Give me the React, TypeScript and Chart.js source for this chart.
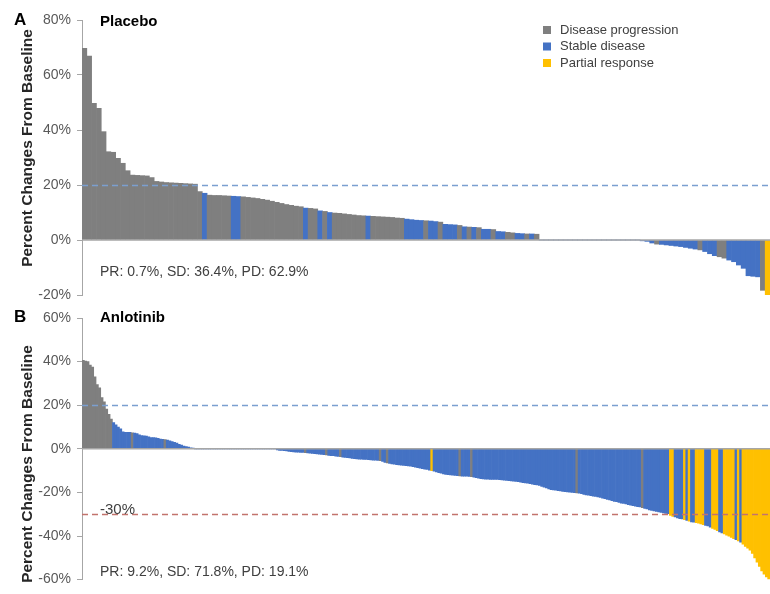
import React, { useEffect, useRef } from "react";
import { Chart, registerables } from "chart.js";

Chart.register(...registerables);

const FONT = "'Liberation Sans', Arial, Helvetica, sans-serif";

const responseNames = ["Disease progression", "Stable disease", "Partial response"];
const responseCodes = ["D", "S", "P"];
const responseColors: Record<string, string> = { D: "#7f7f7f", S: "#4472c4", P: "#ffc000" };

const placeboYTicks = [-20, 0, 20, 40, 60, 80];
const anlotinibYTicks = [-60, -40, -20, 0, 20, 40, 60];

const progressionThreshold = 20;
const responseThreshold = -30;

const placeboSummary = "PR: 0.7%, SD: 36.4%, PD: 62.9%";
const anlotinibSummary = "PR: 9.2%, SD: 71.8%, PD: 19.1%";

// Placebo arm: best percent change from baseline, sorted (one value per patient)
const placeboValues = [
  69.7, 66.9, 49.7, 47.9, 39.4, 32.1, 31.9, 29.7, 27.9, 25.2,
  23.6, 23.5, 23.4, 23.3, 22.7, 21.3, 21.1, 20.9, 20.8, 20.7,
  20.6, 20.5, 20.4, 20.3, 17.6, 17.0, 16.3, 16.2, 16.2, 16.1,
  16.0, 15.9, 15.8, 15.7, 15.5, 15.3, 15.1, 14.8, 14.5, 14.1,
  13.7, 13.3, 12.9, 12.6, 12.3, 12.1, 11.6, 11.5, 11.3, 10.6,
  10.4, 10.0, 9.8, 9.7, 9.5, 9.3, 9.1, 8.9, 8.8, 8.7,
  8.6, 8.5, 8.4, 8.3, 8.2, 8.0, 7.9, 7.6, 7.4, 7.2,
  7.1, 7.0, 6.9, 6.7, 6.5, 5.7, 5.6, 5.5, 5.3, 4.8,
  4.7, 4.6, 4.5, 3.9, 3.9, 3.8, 3.1, 3.0, 2.8, 2.6,
  2.4, 2.3, 2.2, 2.2, 2.1, 0, 0, 0, 0, 0,
  0, 0, 0, 0, 0, 0, 0, 0, 0, 0,
  0, 0, 0, 0, 0, 0, -0.3, -0.5, -1.1, -1.5,
  -1.6, -1.8, -2.0, -2.2, -2.4, -2.7, -3.0, -3.3, -3.6, -4.2,
  -5.0, -5.7, -6.1, -6.6, -7.3, -7.9, -9.1, -10.3, -13.0, -13.2,
  -13.4, -18.3, -20.5,
];
const placeboResponse = [
  "DDDDDDDDDD", "DDDDDDDDDD", "DDDDDSDDDD", "DSSDDDDDDD", "DDDDDDSDDS",
  "DSDDDDDDDS", "DDDDDDDSSS", "SDSSDSSSDS", "DSDSSDSSDD", "SSDSDSSSSS",
  "SSSSSSSSSS", "SSSSSSSSSD", "SSSSSSSSDS", "SSDDSSSSSS", "SDP",
].join("").split("");

// Anlotinib arm
const anlotinibValues = [
  40.6, 40.2, 40.0, 38.4, 37.5, 33.0, 29.5, 28.0, 23.5, 21.5,
  18.2, 15.8, 13.6, 12.0, 11.0, 10.0, 9.2, 7.8, 7.6, 7.6,
  7.5, 7.3, 7.2, 7.0, 6.4, 6.1, 6.0, 5.8, 5.5, 5.2,
  5.1, 5.0, 4.8, 4.5, 4.3, 4.2, 4.0, 3.6, 3.3, 3.0,
  2.6, 2.1, 1.7, 1.3, 1.0, 0.8, 0.5, 0.3, 0, 0,
  0, 0, 0, 0, 0, 0, 0, 0, 0, 0,
  0, 0, 0, 0, 0, 0, 0, 0, 0, 0,
  0, 0, 0, 0, 0, 0, 0, 0, 0, 0,
  0, 0, 0, -0.5, -0.7, -0.8, -0.9, -1.0, -1.2, -1.3,
  -1.4, -1.5, -1.6, -1.7, -1.7, -1.8, -1.9, -2.0, -2.1, -2.2,
  -2.4, -2.5, -2.6, -2.7, -2.8, -3.0, -3.1, -3.2, -3.4, -3.5,
  -3.6, -3.8, -3.9, -4.1, -4.2, -4.4, -4.5, -4.6, -4.7, -4.8,
  -4.9, -4.9, -5.0, -5.1, -5.2, -5.2, -5.3, -5.4, -5.8, -6.2,
  -6.5, -6.7, -6.9, -7.1, -7.3, -7.4, -7.5, -7.6, -7.7, -7.8,
  -8.0, -8.2, -8.4, -8.6, -8.9, -9.1, -9.3, -9.5, -9.8, -10.0,
  -10.3, -10.6, -10.9, -11.2, -11.5, -11.7, -11.9, -12.0, -12.1, -12.2,
  -12.3, -12.4, -12.5, -12.6, -12.6, -12.7, -12.8, -13.0, -13.2, -13.5,
  -13.7, -13.8, -13.9, -13.9, -14.0, -14.0, -14.1, -14.1, -14.2, -14.3,
  -14.4, -14.5, -14.6, -14.7, -14.9, -15.0, -15.1, -15.3, -15.5, -15.6,
  -15.8, -16.0, -16.2, -16.4, -16.6, -16.8, -17.2, -17.6, -18.0, -18.4,
  -18.7, -18.9, -19.0, -19.2, -19.3, -19.5, -19.7, -19.8, -19.9, -20.0,
  -20.1, -20.2, -20.4, -20.6, -20.9, -21.1, -21.3, -21.5, -21.7, -21.9,
  -22.1, -22.3, -22.6, -22.9, -23.2, -23.5, -23.8, -24.1, -24.3, -24.6,
  -24.9, -25.1, -25.3, -25.6, -25.9, -26.1, -26.3, -26.5, -26.7, -27.0,
  -27.3, -27.6, -28.0, -28.3, -28.5, -28.7, -29.0, -29.2, -29.4, -29.6,
  -29.8, -30.6, -31.0, -31.3, -31.7, -32.0, -32.2, -32.5, -32.8, -33.2,
  -33.5, -33.7, -33.9, -34.1, -34.5, -34.8, -35.1, -35.4, -35.9, -36.5,
  -37.0, -37.6, -38.1, -38.6, -39.1, -39.6, -40.1, -40.6, -41.2, -41.7,
  -42.2, -42.8, -43.8, -44.8, -45.6, -46.5, -48.0, -50.0, -52.0, -54.0,
  -56.0, -57.5, -58.8, -59.8,
];
const anlotinibResponse = [
  "DDDDDDDDDD", "DDDSSSSSSS", "SDSSSSSSSS", "SSSSSDSSSS", "SSSSSSSSSS",
  "SSSSSSSSSS", "SSSSSSSSSS", "SSSSSSSSSS", "SSSSSSSSSS", "SSSSSDSSSS",
  "SSSSDSSSSS", "DSSSSSSSSS", "SSSSSSSDSS", "DSSSSSSSSS", "SSSSSSSSSP",
  "SSSSSSSSSS", "SDSSSSDSSS", "SSSSSSSSSS", "SSSSSSSSSS", "SSSSSSSSSS",
  "SSSSSSSSSS", "SDSSSSSSSS", "SSSSSSSSSS", "SSSSSSSSSD", "SSSSSSSSSS",
  "SPPSSSSPSP", "SSPPPPSSSP", "PPSSPPPPPS", "PSPPPPPPPP", "PPPP",
].join("").split("");

const BLUE_DASH = "#7b9fd0";
const RED_DASH = "#c2736d";

type PanelCfg = {
  values: number[];
  response: string[];
  ticks: number[];
  areaTop: number;
  areaBottom: number;
  letter: string;
  letterY: number;
  arm: string;
  armY: number;
  summary: string;
  summaryY: number;
  titleY: number;
  refLines: { value: number; color: string; label?: string; labelY?: number }[];
  legend: boolean;
};

const panels: PanelCfg[] = [
  {
    values: placeboValues,
    response: placeboResponse,
    ticks: placeboYTicks,
    areaTop: 20,
    areaBottom: 295,
    letter: "A",
    letterY: 20,
    arm: "Placebo",
    armY: 22,
    summary: placeboSummary,
    summaryY: 272,
    titleY: 148,
    refLines: [{ value: progressionThreshold, color: BLUE_DASH }],
    legend: true,
  },
  {
    values: anlotinibValues,
    response: anlotinibResponse,
    ticks: anlotinibYTicks,
    areaTop: 318,
    areaBottom: 585,
    letter: "B",
    letterY: 317,
    arm: "Anlotinib",
    armY: 318,
    summary: anlotinibSummary,
    summaryY: 572,
    titleY: 464,
    refLines: [
      { value: progressionThreshold, color: BLUE_DASH },
      { value: responseThreshold, color: RED_DASH, label: `${responseThreshold}%`, labelY: 510 },
    ],
    legend: false,
  },
];

function overlayPlugin(p: PanelCfg) {
  return {
    id: "overlay",
    afterDatasetsDraw(chart: any) {
      const { ctx, chartArea } = chart;
      const y = chart.scales.y;
      ctx.save();
      const y0 = y.getPixelForValue(0);
      ctx.strokeStyle = "#a6a6a6";
      ctx.lineWidth = 1.5;
      ctx.beginPath();
      ctx.moveTo(chartArea.left, y0);
      ctx.lineTo(chartArea.right, y0);
      ctx.stroke();
      for (const r of p.refLines) {
        const yy = Math.round(y.getPixelForValue(r.value)) + 0.5;
        ctx.setLineDash([6, 4]);
        ctx.strokeStyle = r.color;
        ctx.lineWidth = 1.5;
        ctx.beginPath();
        ctx.moveTo(chartArea.left, yy);
        ctx.lineTo(chartArea.right, yy);
        ctx.stroke();
      }
      ctx.restore();
    },
    afterDraw(chart: any) {
      const { ctx } = chart;
      ctx.save();
      ctx.textBaseline = "middle";
      ctx.textAlign = "left";
      ctx.fillStyle = "#000";
      ctx.font = `bold 17px ${FONT}`;
      ctx.fillText(p.letter, 14, p.letterY);
      ctx.font = `bold 15px ${FONT}`;
      ctx.fillText(p.arm, 100, p.armY);
      ctx.fillStyle = "#404040";
      ctx.font = `14px ${FONT}`;
      ctx.fillText(p.summary, 100, p.summaryY);
      for (const r of p.refLines) {
        if (r.label) {
          ctx.font = `15px ${FONT}`;
          ctx.fillStyle = "#404040";
          ctx.fillText(r.label, 100, r.labelY);
        }
      }
      ctx.save();
      ctx.translate(28, p.titleY);
      ctx.rotate(-Math.PI / 2);
      ctx.textAlign = "center";
      ctx.fillStyle = "#262626";
      ctx.font = `bold 15.5px ${FONT}`;
      ctx.fillText("Percent Changes From Baseline", 0, 0);
      ctx.restore();
      if (p.legend) {
        const rows = [30, 46.5, 63];
        responseCodes.forEach((code, i) => {
          ctx.fillStyle = responseColors[code];
          ctx.fillRect(543, rows[i] - 4, 8, 8);
          ctx.fillStyle = "#404040";
          ctx.font = `13px ${FONT}`;
          ctx.fillText(responseNames[i], 560, rows[i]);
        });
      }
      ctx.restore();
    },
  };
}

function buildConfig(p: PanelCfg): any {
  return {
    type: "bar",
    data: {
      labels: p.values.map((_, i) => String(i + 1)),
      datasets: [
        {
          data: p.values,
          backgroundColor: p.response.map((r) => responseColors[r]),
          borderWidth: 0,
          barPercentage: 1,
          categoryPercentage: 1,
        },
      ],
    },
    options: {
      responsive: false,
      maintainAspectRatio: false,
      animation: false,
      events: [],
      layout: { padding: { left: 0, right: 0, top: p.areaTop, bottom: 594 - p.areaBottom } },
      plugins: { legend: { display: false }, tooltip: { enabled: false } },
      scales: {
        x: { display: false, offset: true },
        y: {
          min: p.ticks[0],
          max: p.ticks[p.ticks.length - 1],
          afterFit: (s: any) => {
            s.width = 82;
          },
          afterBuildTicks: (s: any) => {
            s.ticks = p.ticks.map((v) => ({ value: v }));
          },
          ticks: {
            callback: (v: any) => `${v}%`,
            color: "#595959",
            font: { family: FONT, size: 14 },
            padding: 6,
          },
          grid: {
            display: true,
            drawOnChartArea: false,
            drawTicks: true,
            tickLength: 5,
            color: "#a6a6a6",
            tickColor: "#a6a6a6",
          },
          border: { display: true, color: "#a6a6a6", width: 1 },
        },
      },
    },
    plugins: [overlayPlugin(p)],
  };
}

export default function App() {
  const topRef = useRef<HTMLCanvasElement>(null);
  const botRef = useRef<HTMLCanvasElement>(null);
  useEffect(() => {
    const charts = [
      new Chart(topRef.current as HTMLCanvasElement, buildConfig(panels[0])),
      new Chart(botRef.current as HTMLCanvasElement, buildConfig(panels[1])),
    ];
    return () => charts.forEach((c) => c.destroy());
  }, []);
  const cs: React.CSSProperties = { position: "absolute", left: 0, top: 0, width: 770, height: 594 };
  return (
    <div style={{ position: "absolute", left: 0, top: 0, width: 770, height: 594, background: "#fff", overflow: "hidden" }}>
      <canvas ref={topRef} width={770} height={594} style={cs} />
      <canvas ref={botRef} width={770} height={594} style={cs} />
    </div>
  );
}
